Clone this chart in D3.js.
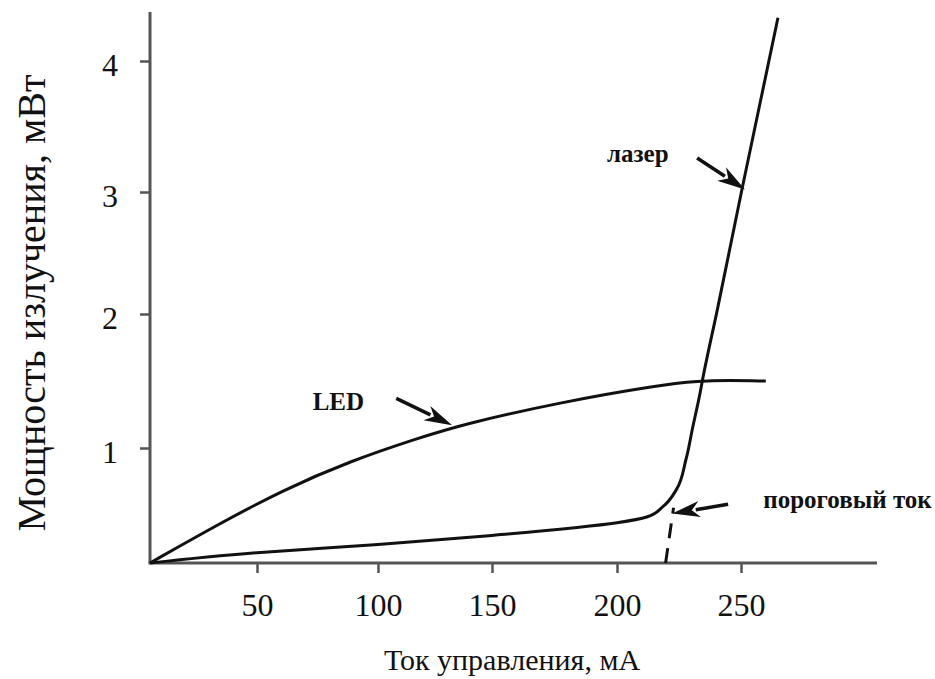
<!DOCTYPE html>
<html><head><meta charset="utf-8">
<script src="https://cdn.jsdelivr.net/npm/d3@7"></script>
<style>body{margin:0;background:#fff}svg{display:block}text{font-family:"Liberation Serif","Times New Roman",serif;fill:#111}</style>
</head><body>
<svg id="c" width="935" height="679"></svg>
<script>
// Data (current in mA, power in mW)
const xTicks = [50, 100, 150, 200, 250];
const yTicks = [1, 2, 3, 4];
const ledCurrent = [0, 31.3, 60.7, 88.4, 117, 138, 177, 217, 233, 245, 260];
const ledPower   = [0, 0.33, 0.635, 0.885, 1.07, 1.18, 1.34, 1.47, 1.50, 1.505, 1.50];
const laserCurrent = [0, 50, 100, 150, 200, 212, 218.5, 224, 227.8, 230.6, 233.5, 234.4, 240.4, 250.5, 264.9];
const laserPower   = [0, 0.09, 0.16, 0.24, 0.35, 0.40, 0.49, 0.64, 0.90, 1.16, 1.41, 1.50, 2.03, 3.03, 4.33];
const thresholdCurrent = [219.6, 222.8];
const thresholdPower = [0, 0.48];
const labels = ["LED", "лазер", "пороговый ток"];
const labelAt = [[73, 1.28], [196, 3.23], [259, 0.48]];
const arrowFrom = [[108, 1.37], [232.3, 3.26], [244.8, 0.51]];
const arrowTo = [[132.5, 1.17], [251.6, 3.02], [222.2, 0.43]];

const svg = d3.select("#c");
// hand-drawn axis: tick marks are not evenly spaced, so piecewise linear scales
const x = d3.scaleLinear().domain([0, 50, 100, 150, 200, 250]).range([150, 257, 378, 492, 617, 741]);
const y = d3.scaleLinear().domain([0, 1, 2, 3, 4]).range([563, 448, 314, 192, 61]);

const axisColor = "#555";
svg.append("line").attr("x1", x(0)).attr("x2", x(0)).attr("y1", y(0)).attr("y2", 12)
  .attr("stroke", axisColor).attr("stroke-width", 3);
svg.append("line").attr("x1", x(0) - 1.5).attr("x2", 877).attr("y1", y(0)).attr("y2", y(0))
  .attr("stroke", axisColor).attr("stroke-width", 3);

const gx = svg.append("g").attr("transform", `translate(0,${y(0)})`)
  .call(d3.axisBottom(x).tickValues(xTicks).tickSize(10).tickPadding(20).tickFormat(d3.format("d")));
gx.select(".domain").remove();
gx.selectAll(".tick line").attr("stroke", axisColor).attr("stroke-width", 2.5);
gx.selectAll(".tick text").attr("font-size", 32).attr("fill", "#111")
  .attr("font-family", "Liberation Serif, serif");

const gy = svg.append("g").attr("transform", `translate(${x(0)},0)`)
  .call(d3.axisLeft(y).tickValues(yTicks).tickSize(10).tickPadding(22).tickFormat(d3.format("d")));
gy.select(".domain").remove();
gy.selectAll(".tick line").attr("stroke", axisColor).attr("stroke-width", 2.5);
gy.selectAll(".tick text").attr("font-size", 32).attr("fill", "#111")
  .attr("font-family", "Liberation Serif, serif").attr("dy", "0.45em");

const ledLine = d3.line().x(d => x(d[0])).y(d => y(d[1])).curve(d3.curveBasis);
const laserLine = d3.line().x(d => x(d[0])).y(d => y(d[1])).curve(d3.curveMonotoneY);
svg.append("path").datum(ledCurrent.map((c, i) => [c, ledPower[i]]))
  .attr("d", ledLine).attr("fill", "none").attr("stroke", "#111").attr("stroke-width", 3);
svg.append("path").datum(laserCurrent.map((c, i) => [c, laserPower[i]]))
  .attr("d", laserLine).attr("fill", "none").attr("stroke", "#111").attr("stroke-width", 3);
svg.append("path").datum(thresholdCurrent.map((c, i) => [c, thresholdPower[i]]))
  .attr("d", d3.line().x(d => x(d[0])).y(d => y(d[1])))
  .attr("fill", "none").attr("stroke", "#111").attr("stroke-width", 3).attr("stroke-dasharray", "15,10");

arrowFrom.forEach((f, i) => {
  const t = arrowTo[i];
  const x1 = x(f[0]), y1 = y(f[1]), x2 = x(t[0]), y2 = y(t[1]);
  const a = Math.atan2(y2 - y1, x2 - x1);
  const L = 28, W = 8;
  const bx = x2 - L * Math.cos(a), by = y2 - L * Math.sin(a);
  svg.append("line").attr("x1", x1).attr("y1", y1).attr("x2", bx + 4 * Math.cos(a)).attr("y2", by + 4 * Math.sin(a))
    .attr("stroke", "#111").attr("stroke-width", 3.5);
  const px = -Math.sin(a), py = Math.cos(a);
  svg.append("path").attr("d", `M${x2},${y2}L${bx + W * px},${by + W * py}L${bx + 8*Math.cos(a)},${by + 8*Math.sin(a)}L${bx - W * px},${by - W * py}Z`)
    .attr("fill", "#111");
});

labels.forEach((t, i) => {
  svg.append("text").attr("x", x(labelAt[i][0])).attr("y", y(labelAt[i][1]))
    .attr("font-size", 25).attr("font-weight", "bold").text(t);
});

svg.append("text").attr("x", 512).attr("y", 670).attr("text-anchor", "middle")
  .attr("font-size", 30).text("Ток управления, мА");
svg.append("text").attr("transform", "translate(45,303) rotate(-90)").attr("text-anchor", "middle")
  .attr("font-size", 40).text("Мощность излучения, мВт");
</script>
</body></html>
